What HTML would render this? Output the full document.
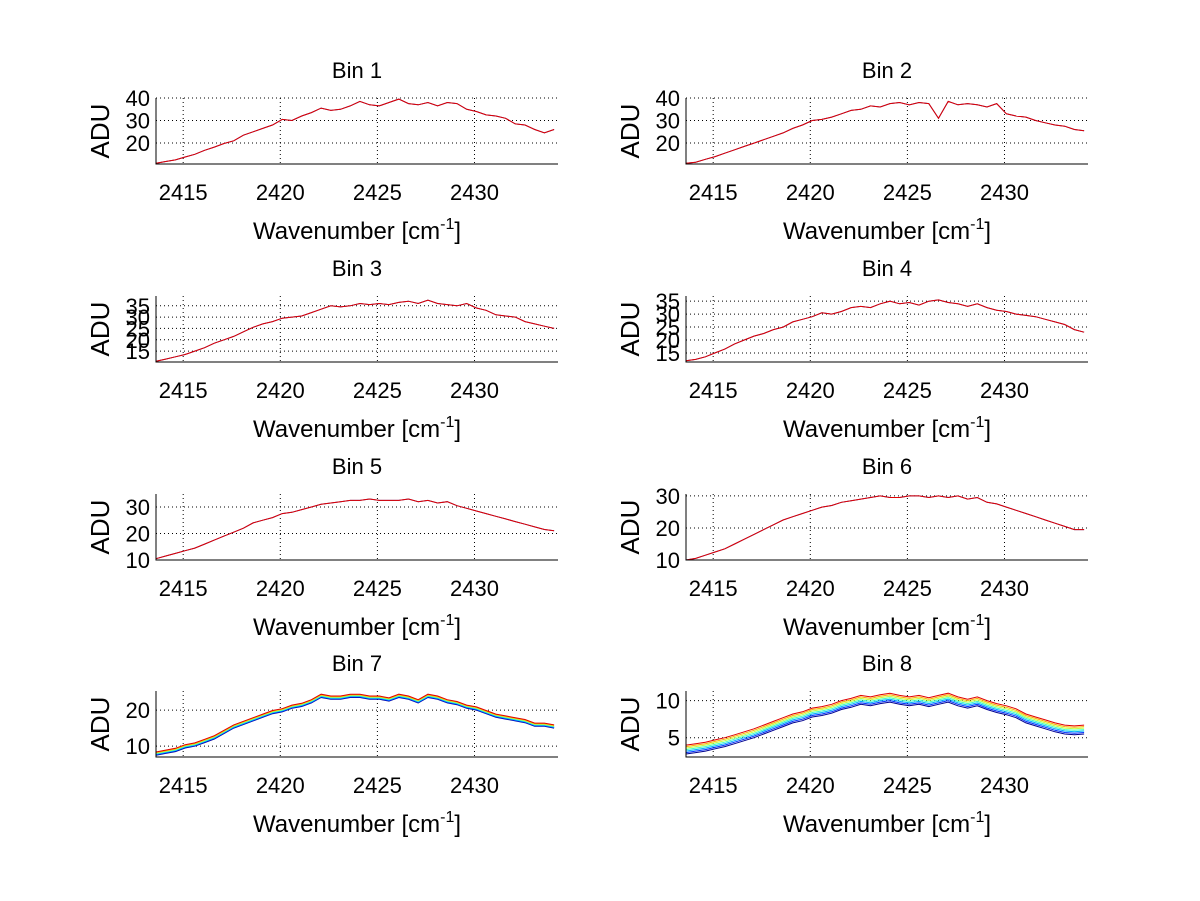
<!DOCTYPE html>
<html><head><meta charset="utf-8"><style>
body{margin:0;background:#fff}
svg{display:block;font-family:"Liberation Sans",sans-serif}
</style></head><body>
<svg id="fig" width="1200" height="901"></svg>
<script>
const xTicks=[2415,2420,2425,2430];
const xMin=2413.6, xStep=0.5;
const titles=["Bin 1","Bin 2","Bin 3","Bin 4","Bin 5","Bin 6","Bin 7","Bin 8"];
const yLims=[[10.7,40],[10.7,40],[10.2,39.3],[11.5,37],[10,34.9],[10,30.6],[7,25.3],[2.4,11.3]];
const yTicks=[[20,30,40],[20,30,40],[15,20,25,30,35],[15,20,25,30,35],[10,20,30],[10,20,30],[10,20],[5,10]];
const bin1=[11,11.8,12.5,13.8,15,16.8,18.2,19.8,21,23.5,25,26.5,28,30.5,30,32,33.5,35.5,34.5,35,36.5,38.5,37,36.5,38,39.5,37.5,37,38,36.5,38,37.5,35,34,32.5,32,31,28.5,28,26,24.5,26];
const bin2=[11,11.5,12.8,14,15.5,17,18.5,20,21.5,23,24.5,26.5,28,30,30.5,31.5,33,34.5,35,36.5,36,37.5,38,37,38,37.5,31,38.5,37,37.5,37,36,37.5,33,32,31.5,30,29,28,27.5,26,25.5];
const bin3=[10.5,11.5,12.5,13.5,15,16.5,18.5,20,21.5,23.5,25.5,27,28,29.5,30,30.5,32,33.5,35,34.5,35,36,35.5,36,35.5,36.5,37,36,37.5,36,35.5,35,36,34,33,31,30.5,30,28,27,26,25];
const bin4=[12,12.5,13.5,15,16.5,18.5,20,21.5,22.5,24,25,27,28,29,30.5,30,31,32.5,33,32.5,34,35,34,34.5,33.5,35,35.5,34.5,34,33,34,32.5,31.5,31,30,29.5,29,28,27,26,24,23];
const bin5=[10.5,11.5,12.5,13.5,14.5,16,17.5,19,20.5,22,24,25,26,27.5,28,29,30,31,31.5,32,32.5,32.5,33,32.5,32.5,32.5,33,32,32.5,31.5,32,30.5,29.5,28.5,27.5,26.5,25.5,24.5,23.5,22.5,21.5,21];
const bin6=[10,10.5,11.5,12.5,13.5,15,16.5,18,19.5,21,22.5,23.5,24.5,25.5,26.5,27,28,28.5,29,29.5,30,29.5,29.5,30,30,29.5,30,29.5,30,29,29.5,28,27.5,26.5,25.5,24.5,23.5,22.5,21.5,20.5,19.5,19.5];
const bin7=[7.5,8,8.5,9.5,10,11,12,13.5,15,16,17,18,19,19.5,20.5,21,22,23.5,23,23,23.5,23.5,23,23,22.5,23.5,23,22,23.5,23,22,21.5,20.5,20,19,18,17.5,17,16.5,15.5,15.5,15];
const bin8=[2.8,3,3.2,3.5,3.8,4.2,4.6,5,5.5,6,6.5,7,7.3,7.8,8,8.3,8.8,9.1,9.5,9.3,9.6,9.8,9.5,9.3,9.5,9.2,9.5,9.8,9.3,9,9.3,8.8,8.4,8.1,7.7,7,6.6,6.2,5.8,5.5,5.4,5.5];
const binData=[bin1,bin2,bin3,bin4,bin5,bin6,bin7,bin8];
const bin7Offsets=[0,0.15,0.3,0.45,0.6,0.75,0.9];
const bin8Offsets=[0,0.2,0.4,0.6,0.8,1.0,1.2];
const singleOffsets=[0,0];
const jet=["#00008f","#0030ff","#00b0ff","#40ffc0","#c0ff40","#ffb000","#e00000"];
const pairCols=["#2020a0","#e00000"];

const NS="http://www.w3.org/2000/svg";
const svg=document.getElementById("fig");
function mk(tag,attrs,parent){const e=document.createElementNS(NS,tag);for(const k in attrs)e.setAttribute(k,attrs[k]);(parent||svg).appendChild(e);return e;}
const W=402,H=66,xMax=xMin+20.7;
for(let p=0;p<8;p++){
  const col=p%2,row=Math.floor(p/2);
  const L=col?686:156, T=[98,296,494,691][row];
  const g=mk("g",{});
  
  
  const [y0,y1]=yLims[p];
  const sx=v=>L+(v-xMin)/(xMax-xMin)*W;
  const sy=v=>T+H-(v-y0)/(y1-y0)*H;
  xTicks.forEach(t=>{
    const x=sx(t);
    const gl=mk("line",{x1:x,x2:x,y1:T,y2:T+H,stroke:"#000","stroke-width":1,"stroke-dasharray":"1,3"},g);
    
    
    const tl=mk("text",{x:x,y:T+H+36,"text-anchor":"middle","font-size":22},g);
    tl.textContent=t;
    
    
  });
  yTicks[p].forEach(t=>{
    const y=sy(t);
    const gl=mk("line",{x1:L,x2:L+W,y1:y,y2:y,stroke:"#000","stroke-width":1,"stroke-dasharray":"1,3"},g);
    
    
    const tl=mk("text",{x:L-6,y:y+8,"text-anchor":"end","font-size":22},g);
    tl.textContent=t;
    
    
  });
  const data=binData[p];
  const offs=p==6?bin7Offsets:p==7?bin8Offsets:singleOffsets;
  const cols=p>=6?jet:pairCols;
  offs.forEach((o,si)=>{
    const d=data.map((v,i)=>(i?"L":"M")+sx(xMin+i*xStep).toFixed(1)+","+sy(Math.max(y0,v+o)).toFixed(1)).join("");
    const pl=mk("path",{d:d,fill:"none",stroke:cols[si],"stroke-width":1},g);
    
    
  });
  const ax=mk("path",{d:`M${L},${T}V${T+H}H${L+W}`,fill:"none",stroke:"#000","stroke-width":1},g);
  
  
  const ti=mk("text",{x:L+W/2,y:T-20,"text-anchor":"middle","font-size":22},g);
  ti.textContent=titles[p];
  
  
  const xl=mk("text",{x:L+W/2,y:T+H+75,"text-anchor":"middle","font-size":24},g);
  xl.innerHTML='Wavenumber [cm<tspan font-size="16" dy="-10">-1</tspan><tspan dy="10">]</tspan>';
  
  
  const yl=mk("text",{x:0,y:0,"text-anchor":"middle","font-size":26,transform:`translate(${L-47},${T+H/2}) rotate(-90)`},g);
  yl.textContent="ADU";
  
  
}
</script>
</body></html>
